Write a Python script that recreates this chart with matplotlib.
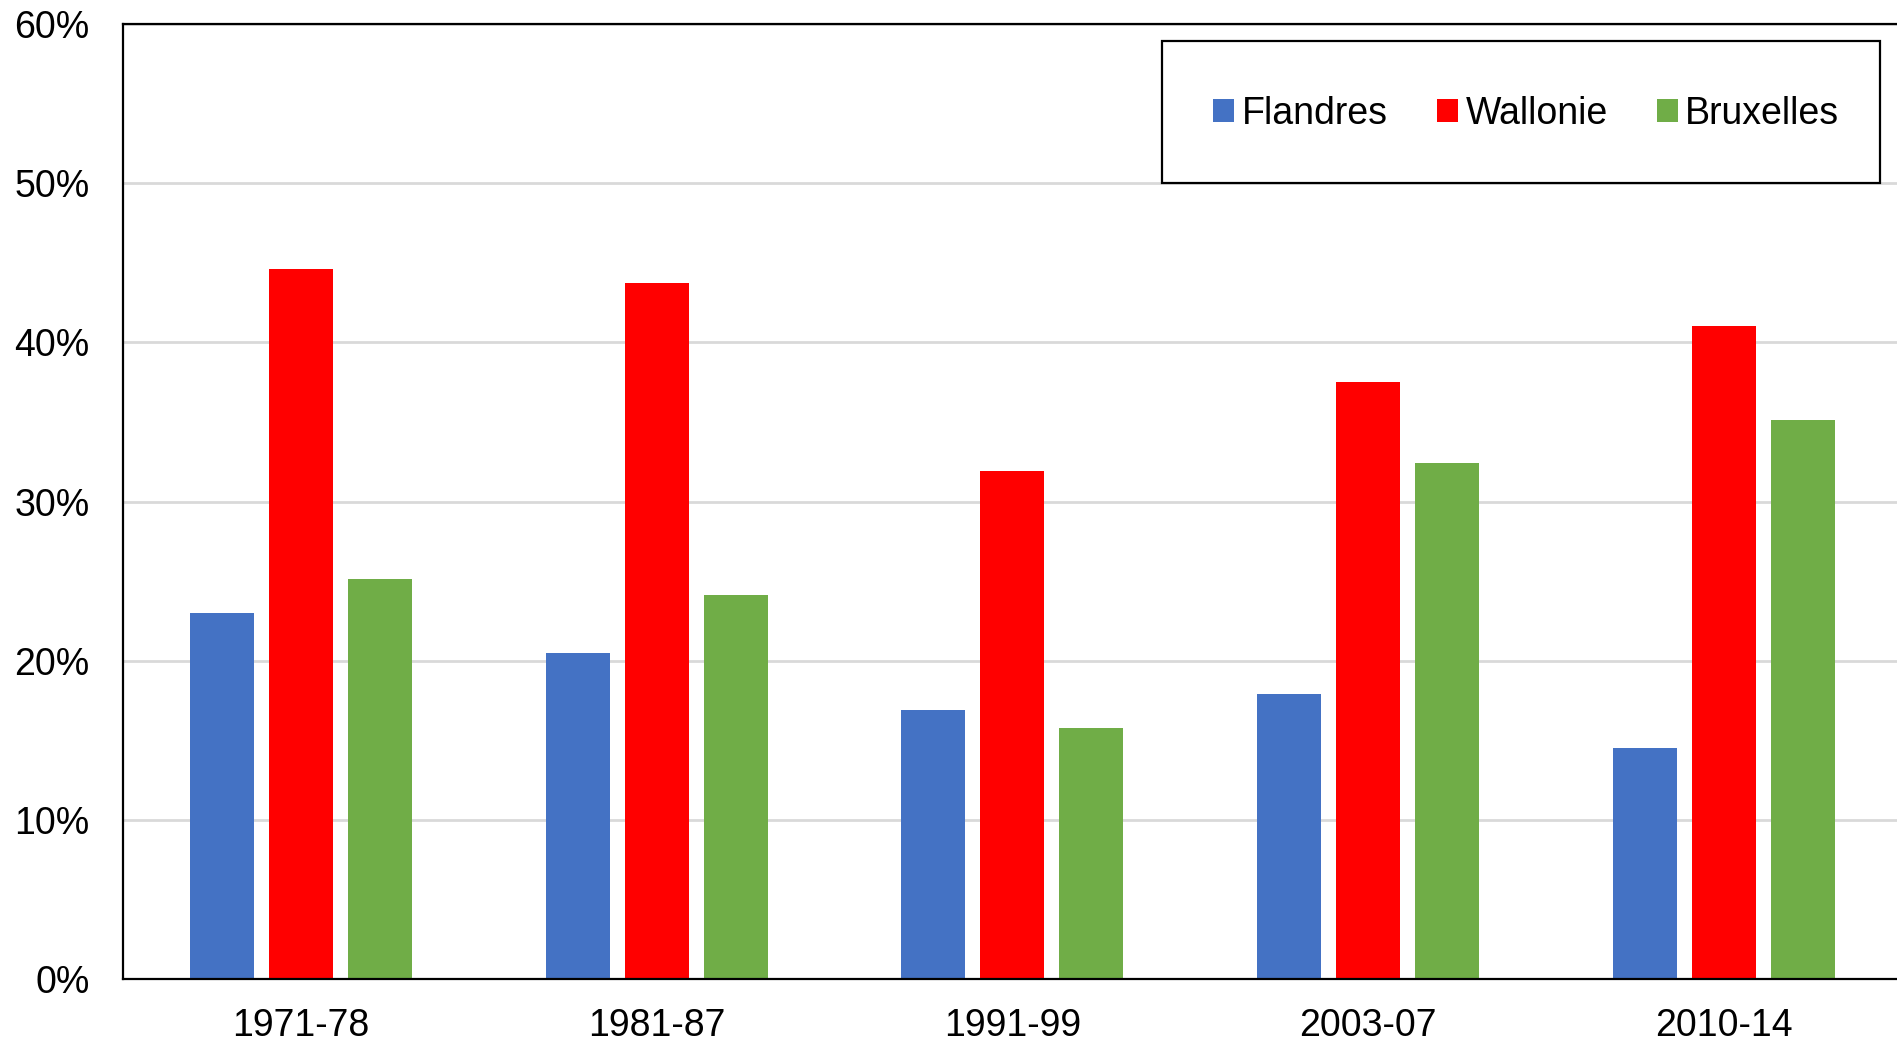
import matplotlib.pyplot as plt
import numpy as np
from matplotlib.patches import Rectangle
from matplotlib.ticker import PercentFormatter

periods = ["1971-78", "1981-87", "1991-99", "2003-07", "2010-14"]
flandres = [23.0, 20.5, 16.9, 17.9, 14.5]
wallonie = [44.6, 43.7, 31.9, 37.5, 41.0]
bruxelles = [25.1, 24.1, 15.8, 32.4, 35.1]

plt.rcParams['font.family'] = ['Liberation Sans', 'DejaVu Sans']

W, H = 1897, 1041
fig = plt.figure(figsize=(W / 100, H / 100), dpi=100)
ax = fig.add_axes([123 / W, 62 / H, 1778.5 / W, 955 / H])

x = np.arange(len(periods))
width = 0.18
step = 0.222
series = [("Flandres", flandres, "#4472C4"),
          ("Wallonie", wallonie, "#FF0000"),
          ("Bruxelles", bruxelles, "#70AD47")]
for i, (name, vals, col) in enumerate(series):
    ax.bar(x + (i - 1) * step, vals, width, color=col, label=name, zorder=3)

ax.set_xlim(-0.5, len(periods) - 0.5)
ax.set_ylim(0, 60)
ax.set_yticks(np.arange(0, 61, 10))
ax.yaxis.set_major_formatter(PercentFormatter(decimals=0))
ax.set_xticks(x)
ax.set_xticklabels(periods)
ax.tick_params(axis='both', length=0, labelsize=27)
ax.tick_params(axis='y', pad=24)
ax.tick_params(axis='x', pad=21)
ax.grid(axis='y', color='#d9d9d9', linewidth=2, zorder=0)
for s in ax.spines.values():
    s.set_color('black')
    s.set_linewidth(1.6)
    s.set_zorder(4)

# legend box drawn separately (its padding is uneven in the original)
ax.add_patch(Rectangle((1162 / W, 1 - 183 / H), 718 / W, 142 / H,
                       transform=fig.transFigure, facecolor='white',
                       edgecolor='black', linewidth=1.6, zorder=5,
                       clip_on=False))
leg = ax.legend(loc='center left', bbox_to_anchor=(1213 / W, 1 - 114 / H),
                bbox_transform=fig.transFigure, ncol=3, fontsize=27,
                frameon=False, handlelength=0.57, handleheight=0.57,
                handletextpad=0.2, columnspacing=1.3, borderpad=0,
                borderaxespad=0)
leg.set_zorder(6)

fig.savefig("out.png", dpi=100, facecolor='white')
